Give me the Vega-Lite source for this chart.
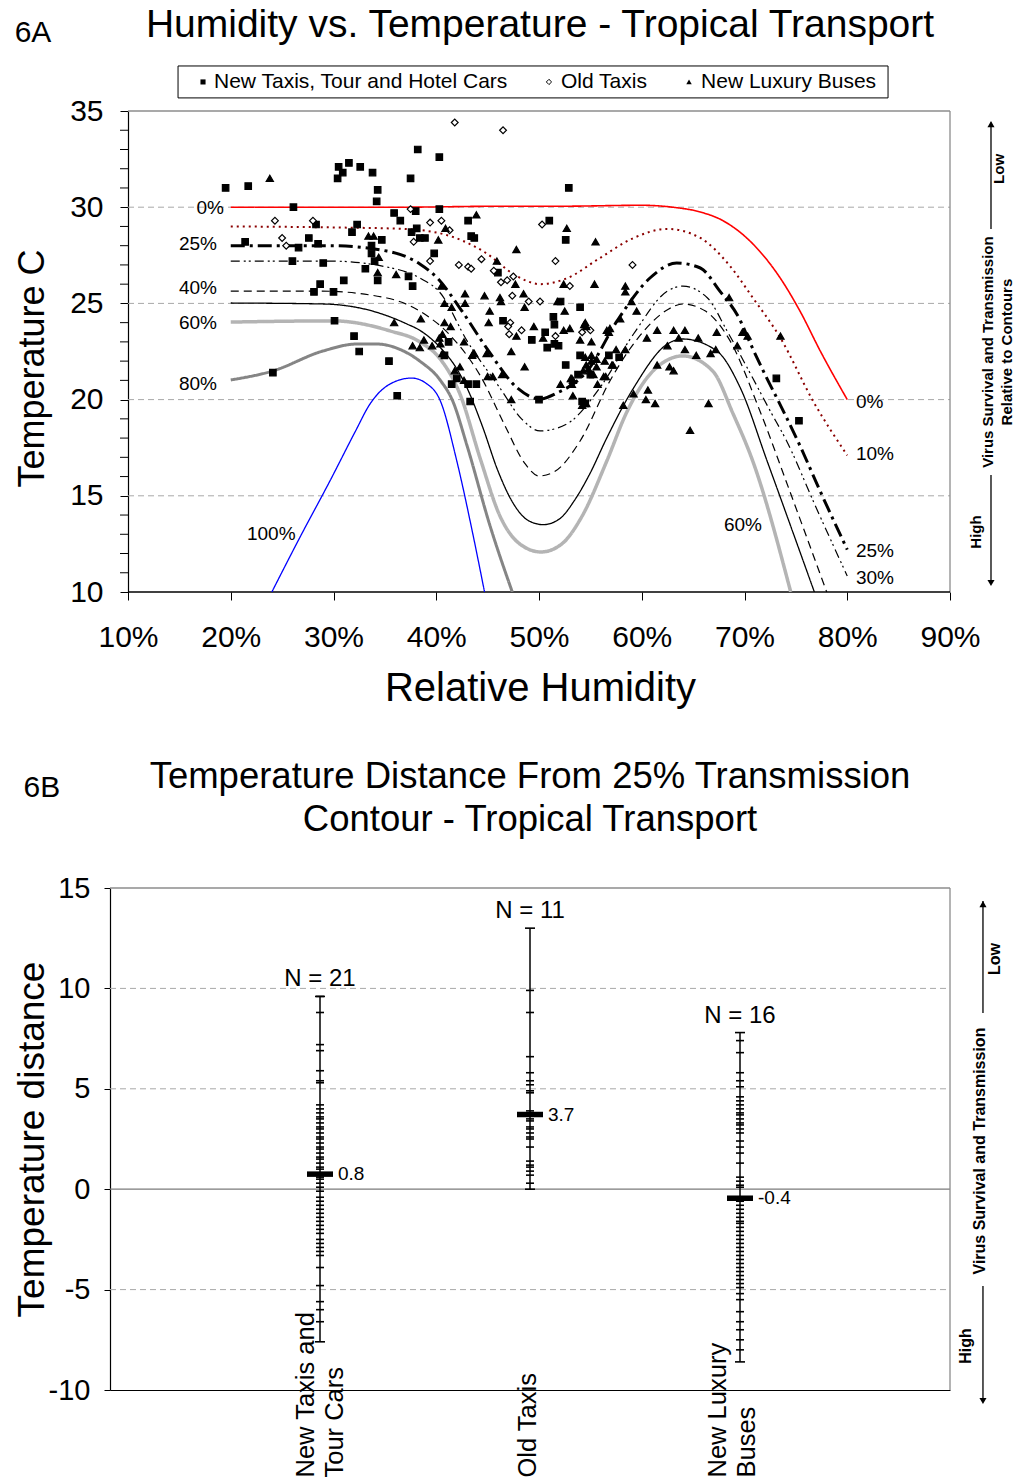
{
"$schema": "https://vega.github.io/schema/vega-lite/v6.json",
"padding": {"left": 12, "top": 6, "right": 0, "bottom": 0},
"spacing": 50,
"resolve": {"scale": {"shape": "independent", "fill": "independent", "size": "independent", "color": "independent", "strokeDash": "independent", "strokeWidth": "independent"}},
"config": {
 "font": "Liberation Sans",
 "view": {"stroke": null},
 "axis": {"labelFont": "Liberation Sans", "titleFont": "Liberation Sans", "labelColor": "#000", "titleColor": "#000", "domainColor": "#000", "tickColor": "#000", "titleFontWeight": "normal", "grid": false, "domainWidth": 1.2, "tickWidth": 1},
 "title": {"font": "Liberation Sans", "fontWeight": "normal", "color": "#000"},
 "text": {"font": "Liberation Sans", "color": "#000"}
},
"datasets": {
 "gridA": [{"temp": 15}, {"temp": 20}, {"temp": 25}, {"temp": 30}],
 "minorA": [{"temp":11},{"temp":12},{"temp":13},{"temp":14},{"temp":16},{"temp":17},{"temp":18},{"temp":19},{"temp":21},{"temp":22},{"temp":23},{"temp":24},{"temp":26},{"temp":27},{"temp":28},{"temp":29},{"temp":31},{"temp":32},{"temp":33},{"temp":34}],
 "gridB": [{"d": 10}, {"d": 5}, {"d": -5}],
 "contours": [
  {"c":"0%","hum":20,"temp":30.0},{"c":"0%","hum":27,"temp":30.0},{"c":"0%","hum":36.5,"temp":30.0},{"c":"0%","hum":46,"temp":30.05},{"c":"0%","hum":52,"temp":30.05},{"c":"0%","hum":60,"temp":30.1},{"c":"0%","hum":63,"temp":30.0},{"c":"0%","hum":65.7,"temp":29.75},{"c":"0%","hum":67.9,"temp":29.3},{"c":"0%","hum":70.8,"temp":28.1},{"c":"0%","hum":73.5,"temp":26.3},{"c":"0%","hum":75.4,"temp":24.6},{"c":"0%","hum":77.4,"temp":22.5},{"c":"0%","hum":80,"temp":20.0},
  {"c":"10%","hum":20,"temp":29.0},{"c":"10%","hum":29.7,"temp":28.95},{"c":"10%","hum":36.8,"temp":28.87},{"c":"10%","hum":40.7,"temp":28.6},{"c":"10%","hum":44.6,"temp":27.7},{"c":"10%","hum":47.9,"temp":26.4},{"c":"10%","hum":50.1,"temp":26.0},{"c":"10%","hum":52.7,"temp":26.3},{"c":"10%","hum":55.9,"temp":27.35},{"c":"10%","hum":59.2,"temp":28.4},{"c":"10%","hum":62.5,"temp":28.87},{"c":"10%","hum":65.7,"temp":28.4},{"c":"10%","hum":68.5,"temp":27.0},{"c":"10%","hum":70.8,"temp":25.3},{"c":"10%","hum":73.5,"temp":23.2},{"c":"10%","hum":76.7,"temp":19.9},{"c":"10%","hum":80,"temp":17.1},
  {"c":"25%","hum":20,"temp":28.0},{"c":"25%","hum":29.7,"temp":28.0},{"c":"25%","hum":35.2,"temp":27.72},{"c":"25%","hum":38.4,"temp":27.05},{"c":"25%","hum":40.1,"temp":26.32},{"c":"25%","hum":42.3,"temp":24.76},{"c":"25%","hum":44.9,"temp":22.68},{"c":"25%","hum":47.9,"temp":20.6},{"c":"25%","hum":50.1,"temp":20.03},{"c":"25%","hum":51.75,"temp":20.34},{"c":"25%","hum":54.7,"temp":21.49},{"c":"25%","hum":57.6,"temp":24.09},{"c":"25%","hum":60.8,"temp":26.32},{"c":"25%","hum":63.4,"temp":27.1},{"c":"25%","hum":65.7,"temp":26.84},{"c":"25%","hum":67.6,"temp":25.64},{"c":"25%","hum":69.6,"temp":24.1},{"c":"25%","hum":70.5,"temp":23.0},{"c":"25%","hum":72.0,"temp":21.3},{"c":"25%","hum":73.6,"temp":19.6},{"c":"25%","hum":75.4,"temp":17.6},{"c":"25%","hum":77.4,"temp":15.2},{"c":"25%","hum":80,"temp":12.2},
  {"c":"30%","hum":20,"temp":27.2},{"c":"30%","hum":29.7,"temp":27.2},{"c":"30%","hum":35.2,"temp":26.89},{"c":"30%","hum":38.4,"temp":26.32},{"c":"30%","hum":40.4,"temp":25.54},{"c":"30%","hum":43.0,"temp":23.05},{"c":"30%","hum":46.2,"temp":20.6},{"c":"30%","hum":48.3,"temp":19.0},{"c":"30%","hum":50.1,"temp":18.37},{"c":"30%","hum":52.7,"temp":18.73},{"c":"30%","hum":55.9,"temp":20.6},{"c":"30%","hum":59.2,"temp":23.41},{"c":"30%","hum":62.5,"temp":25.64},{"c":"30%","hum":64.0,"temp":25.9},{"c":"30%","hum":66.4,"temp":25.28},{"c":"30%","hum":68.3,"temp":23.57},{"c":"30%","hum":70.8,"temp":21.12},{"c":"30%","hum":72.5,"temp":19.41},{"c":"30%","hum":74.1,"temp":17.85},{"c":"30%","hum":76.9,"temp":14.47},{"c":"30%","hum":80,"temp":10.83},
  {"c":"40%","hum":20,"temp":25.64},{"c":"40%","hum":28.7,"temp":25.64},{"c":"40%","hum":35.2,"temp":25.28},{"c":"40%","hum":38.4,"temp":24.6},{"c":"40%","hum":41.6,"temp":23.2},{"c":"40%","hum":44.3,"temp":21.23},{"c":"40%","hum":46.7,"temp":18.63},{"c":"40%","hum":48.6,"temp":16.7},{"c":"40%","hum":50.0,"temp":16.03},{"c":"40%","hum":51.6,"temp":16.29},{"c":"40%","hum":54.0,"temp":17.85},{"c":"40%","hum":56.9,"temp":20.97},{"c":"40%","hum":59.8,"temp":23.31},{"c":"40%","hum":62.3,"temp":24.6},{"c":"40%","hum":64.0,"temp":24.97},{"c":"40%","hum":66.2,"temp":24.6},{"c":"40%","hum":68.6,"temp":23.05},{"c":"40%","hum":71.5,"temp":19.41},{"c":"40%","hum":74.4,"temp":15.25},{"c":"40%","hum":78.0,"temp":10.0},
  {"c":"50%","hum":20,"temp":25.02},{"c":"50%","hum":29.0,"temp":24.97},{"c":"50%","hum":33.8,"temp":24.6},{"c":"50%","hum":37.15,"temp":23.93},{"c":"50%","hum":38.4,"temp":23.6},{"c":"50%","hum":40.4,"temp":22.7},{"c":"50%","hum":42.0,"temp":21.6},{"c":"50%","hum":43.0,"temp":20.6},{"c":"50%","hum":44.5,"temp":18.6},{"c":"50%","hum":46.0,"temp":16.3},{"c":"50%","hum":47.5,"temp":14.6},{"c":"50%","hum":49.0,"temp":13.7},{"c":"50%","hum":50.4,"temp":13.5},{"c":"50%","hum":52.0,"temp":13.8},{"c":"50%","hum":53.5,"temp":14.8},{"c":"50%","hum":55.0,"temp":16.2},{"c":"50%","hum":56.5,"temp":17.9},{"c":"50%","hum":59.2,"temp":20.6},{"c":"50%","hum":62.5,"temp":22.89},{"c":"50%","hum":64.0,"temp":23.15},{"c":"50%","hum":67.3,"temp":22.53},{"c":"50%","hum":69.6,"temp":20.6},{"c":"50%","hum":72.2,"temp":16.81},{"c":"50%","hum":76.8,"temp":10.0},
  {"c":"60%","hum":20,"temp":24.03},{"c":"60%","hum":30.0,"temp":24.09},{"c":"60%","hum":35.5,"temp":23.57},{"c":"60%","hum":38.4,"temp":23.0},{"c":"60%","hum":40.4,"temp":22.1},{"c":"60%","hum":42.3,"temp":20.3},{"c":"60%","hum":44.3,"temp":16.9},{"c":"60%","hum":46.2,"temp":13.95},{"c":"60%","hum":48.15,"temp":12.49},{"c":"60%","hum":50.2,"temp":12.08},{"c":"60%","hum":52.2,"temp":12.49},{"c":"60%","hum":54.2,"temp":13.95},{"c":"60%","hum":56.6,"temp":16.81},{"c":"60%","hum":58.5,"temp":19.3},{"c":"60%","hum":60.5,"temp":21.12},{"c":"60%","hum":62.3,"temp":22.0},{"c":"60%","hum":64.0,"temp":22.27},{"c":"60%","hum":66.9,"temp":21.49},{"c":"60%","hum":68.9,"temp":19.25},{"c":"60%","hum":70.8,"temp":16.81},{"c":"60%","hum":74.5,"temp":10.0},
  {"c":"80%","hum":20,"temp":21.02},{"c":"80%","hum":24.1,"temp":21.49},{"c":"80%","hum":29.0,"temp":22.53},{"c":"80%","hum":32.3,"temp":22.89},{"c":"80%","hum":34.2,"temp":22.89},{"c":"80%","hum":36.5,"temp":22.6},{"c":"80%","hum":38.4,"temp":22.0},{"c":"80%","hum":40.4,"temp":21.0},{"c":"80%","hum":41.6,"temp":19.93},{"c":"80%","hum":43.0,"temp":17.6},{"c":"80%","hum":45.2,"temp":13.5},{"c":"80%","hum":47.4,"temp":10.0},
  {"c":"100%","hum":24.0,"temp":10.0},{"c":"100%","hum":26.7,"temp":12.81},{"c":"100%","hum":29.7,"temp":15.82},{"c":"100%","hum":32.1,"temp":18.32},{"c":"100%","hum":33.55,"temp":19.77},{"c":"100%","hum":35.5,"temp":20.81},{"c":"100%","hum":37.6,"temp":21.12},{"c":"100%","hum":39.0,"temp":20.85},{"c":"100%","hum":40.4,"temp":19.93},{"c":"100%","hum":42.0,"temp":16.81},{"c":"100%","hum":43.5,"temp":13.17},{"c":"100%","hum":44.7,"temp":10.0}
 ],
 "pts": [
  {"s":"N","hum":19.5,"temp":31.0},{"s":"N","hum":21.7,"temp":31.1},{"s":"N","hum":26.1,"temp":30.0},{"s":"N","hum":30.5,"temp":32.1},{"s":"N","hum":31.5,"temp":32.3},{"s":"N","hum":30.9,"temp":31.8},{"s":"N","hum":30.4,"temp":31.5},{"s":"N","hum":32.6,"temp":32.1},{"s":"N","hum":33.8,"temp":31.8},{"s":"N","hum":34.3,"temp":30.9},{"s":"N","hum":34.2,"temp":30.3},{"s":"N","hum":37.5,"temp":31.5},{"s":"N","hum":38.2,"temp":33.0},{"s":"N","hum":40.3,"temp":32.6},{"s":"N","hum":35.9,"temp":29.7},{"s":"N","hum":36.5,"temp":29.3},{"s":"N","hum":38.0,"temp":29.8},{"s":"N","hum":40.3,"temp":29.9},{"s":"N","hum":28.3,"temp":29.1},{"s":"N","hum":31.8,"temp":28.7},{"s":"N","hum":32.3,"temp":29.1},{"s":"N","hum":21.4,"temp":28.2},{"s":"N","hum":26.6,"temp":27.9},{"s":"N","hum":27.6,"temp":28.4},{"s":"N","hum":28.5,"temp":28.1},{"s":"N","hum":26.0,"temp":27.2},{"s":"N","hum":29.0,"temp":27.1},{"s":"N","hum":33.7,"temp":28.0},{"s":"N","hum":33.7,"temp":27.6},{"s":"N","hum":34.7,"temp":28.3},{"s":"N","hum":34.0,"temp":27.2},{"s":"N","hum":33.1,"temp":26.8},{"s":"N","hum":34.3,"temp":26.2},{"s":"N","hum":31.0,"temp":26.2},{"s":"N","hum":28.7,"temp":26.0},{"s":"N","hum":28.1,"temp":25.6},{"s":"N","hum":30.0,"temp":25.6},{"s":"N","hum":37.3,"temp":26.4},{"s":"N","hum":37.7,"temp":25.9},{"s":"N","hum":38.1,"temp":28.9},{"s":"N","hum":37.6,"temp":28.7},{"s":"N","hum":38.4,"temp":28.4},{"s":"N","hum":38.9,"temp":28.4},{"s":"N","hum":39.8,"temp":27.6},{"s":"N","hum":30.1,"temp":24.1},{"s":"N","hum":32.0,"temp":23.3},{"s":"N","hum":32.5,"temp":22.5},{"s":"N","hum":35.4,"temp":22.0},{"s":"N","hum":36.2,"temp":20.2},{"s":"N","hum":24.1,"temp":21.4},{"s":"N","hum":43.1,"temp":29.3},{"s":"N","hum":43.4,"temp":28.5},{"s":"N","hum":43.7,"temp":28.4},{"s":"N","hum":46.0,"temp":26.6},{"s":"N","hum":46.5,"temp":24.1},{"s":"N","hum":49.3,"temp":23.1},{"s":"N","hum":41.2,"temp":23.0},{"s":"N","hum":41.5,"temp":20.8},{"s":"N","hum":42.0,"temp":21.1},{"s":"N","hum":43.1,"temp":20.8},{"s":"N","hum":43.9,"temp":20.8},{"s":"N","hum":43.3,"temp":19.9},{"s":"N","hum":50.0,"temp":20.0},{"s":"N","hum":51.0,"temp":29.3},{"s":"N","hum":52.6,"temp":28.3},{"s":"N","hum":52.9,"temp":31.0},{"s":"N","hum":40.8,"temp":22.3},{"s":"N","hum":51.4,"temp":24.3},{"s":"N","hum":51.5,"temp":23.9},{"s":"N","hum":50.6,"temp":23.5},{"s":"N","hum":51.5,"temp":22.9},{"s":"N","hum":50.8,"temp":22.7},{"s":"N","hum":51.9,"temp":22.8},{"s":"N","hum":52.1,"temp":25.1},{"s":"N","hum":54.0,"temp":24.8},{"s":"N","hum":54.0,"temp":22.3},{"s":"N","hum":56.8,"temp":22.3},{"s":"N","hum":52.6,"temp":21.8},{"s":"N","hum":53.8,"temp":21.3},{"s":"N","hum":55.0,"temp":21.3},{"s":"N","hum":54.2,"temp":19.9},{"s":"N","hum":54.5,"temp":19.8},{"s":"N","hum":57.8,"temp":22.2},{"s":"N","hum":73.1,"temp":21.1},{"s":"N","hum":75.3,"temp":18.9},
  {"s":"O","hum":41.8,"temp":34.4},{"s":"O","hum":46.5,"temp":34.0},{"s":"O","hum":24.3,"temp":29.3},{"s":"O","hum":28.0,"temp":29.3},{"s":"O","hum":25.0,"temp":28.4},{"s":"O","hum":25.4,"temp":28.0},{"s":"O","hum":37.5,"temp":29.9},{"s":"O","hum":37.8,"temp":28.2},{"s":"O","hum":39.4,"temp":29.2},{"s":"O","hum":40.5,"temp":29.3},{"s":"O","hum":41.3,"temp":28.8},{"s":"O","hum":39.4,"temp":27.2},{"s":"O","hum":42.2,"temp":27.0},{"s":"O","hum":43.1,"temp":26.9},{"s":"O","hum":43.4,"temp":26.8},{"s":"O","hum":44.4,"temp":27.3},{"s":"O","hum":45.6,"temp":26.7},{"s":"O","hum":46.3,"temp":26.1},{"s":"O","hum":46.9,"temp":26.2},{"s":"O","hum":47.5,"temp":26.4},{"s":"O","hum":49.0,"temp":25.1},{"s":"O","hum":50.1,"temp":25.1},{"s":"O","hum":47.4,"temp":25.4},{"s":"O","hum":47.2,"temp":24.0},{"s":"O","hum":47.0,"temp":23.8},{"s":"O","hum":47.1,"temp":23.4},{"s":"O","hum":48.3,"temp":23.6},{"s":"O","hum":50.3,"temp":29.1},{"s":"O","hum":51.6,"temp":27.2},{"s":"O","hum":53.0,"temp":25.9},{"s":"O","hum":54.2,"temp":23.5},{"s":"O","hum":55.0,"temp":23.6},{"s":"O","hum":51.6,"temp":23.3},{"s":"O","hum":59.1,"temp":27.0},
  {"s":"L","hum":23.8,"temp":31.5},{"s":"L","hum":33.4,"temp":28.5},{"s":"L","hum":33.9,"temp":28.5},{"s":"L","hum":34.4,"temp":27.4},{"s":"L","hum":34.3,"temp":26.6},{"s":"L","hum":36.1,"temp":26.5},{"s":"L","hum":35.9,"temp":24.0},{"s":"L","hum":38.5,"temp":24.2},{"s":"L","hum":37.7,"temp":22.8},{"s":"L","hum":38.4,"temp":22.7},{"s":"L","hum":38.8,"temp":23.1},{"s":"L","hum":39.6,"temp":22.8},{"s":"L","hum":40.3,"temp":23.2},{"s":"L","hum":43.9,"temp":29.6},{"s":"L","hum":40.9,"temp":28.9},{"s":"L","hum":40.2,"temp":28.3},{"s":"L","hum":47.8,"temp":27.8},{"s":"L","hum":45.9,"temp":27.2},{"s":"L","hum":47.7,"temp":26.0},{"s":"L","hum":46.2,"temp":25.3},{"s":"L","hum":46.3,"temp":25.1},{"s":"L","hum":48.5,"temp":25.5},{"s":"L","hum":48.6,"temp":24.8},{"s":"L","hum":42.8,"temp":25.5},{"s":"L","hum":44.7,"temp":25.4},{"s":"L","hum":40.5,"temp":25.9},{"s":"L","hum":40.8,"temp":25.0},{"s":"L","hum":41.5,"temp":24.8},{"s":"L","hum":45.2,"temp":24.6},{"s":"L","hum":45.1,"temp":24.0},{"s":"L","hum":47.8,"temp":23.3},{"s":"L","hum":49.5,"temp":23.8},{"s":"L","hum":42.8,"temp":25.0},{"s":"L","hum":40.8,"temp":24.0},{"s":"L","hum":41.4,"temp":23.8},{"s":"L","hum":42.7,"temp":23.0},{"s":"L","hum":40.6,"temp":23.4},{"s":"L","hum":40.4,"temp":22.9},{"s":"L","hum":43.6,"temp":22.4},{"s":"L","hum":44.9,"temp":22.4},{"s":"L","hum":47.3,"temp":22.5},{"s":"L","hum":48.6,"temp":21.7},{"s":"L","hum":45.0,"temp":21.2},{"s":"L","hum":45.5,"temp":21.2},{"s":"L","hum":42.3,"temp":21.7},{"s":"L","hum":41.8,"temp":21.5},{"s":"L","hum":42.7,"temp":21.0},{"s":"L","hum":47.3,"temp":20.0},{"s":"L","hum":40.6,"temp":22.4},{"s":"L","hum":43.7,"temp":22.4},{"s":"L","hum":43.5,"temp":22.3},{"s":"L","hum":46.4,"temp":21.3},{"s":"L","hum":52.7,"temp":28.9},{"s":"L","hum":55.5,"temp":28.2},{"s":"L","hum":52.4,"temp":26.0},{"s":"L","hum":55.4,"temp":26.0},{"s":"L","hum":51.8,"temp":25.1},{"s":"L","hum":52.5,"temp":24.6},{"s":"L","hum":52.4,"temp":23.6},{"s":"L","hum":53.0,"temp":23.7},{"s":"L","hum":54.5,"temp":24.0},{"s":"L","hum":54.6,"temp":23.8},{"s":"L","hum":54.4,"temp":23.9},{"s":"L","hum":50.4,"temp":23.2},{"s":"L","hum":54.0,"temp":23.1},{"s":"L","hum":55.1,"temp":23.0},{"s":"L","hum":56.6,"temp":23.6},{"s":"L","hum":56.9,"temp":23.7},{"s":"L","hum":56.8,"temp":23.5},{"s":"L","hum":54.5,"temp":22.2},{"s":"L","hum":55.1,"temp":22.3},{"s":"L","hum":55.6,"temp":22.1},{"s":"L","hum":54.6,"temp":21.8},{"s":"L","hum":55.1,"temp":22.0},{"s":"L","hum":55.6,"temp":21.7},{"s":"L","hum":57.2,"temp":21.8},{"s":"L","hum":53.2,"temp":21.1},{"s":"L","hum":53.3,"temp":21.0},{"s":"L","hum":54.3,"temp":21.5},{"s":"L","hum":54.8,"temp":21.6},{"s":"L","hum":55.3,"temp":21.3},{"s":"L","hum":56.3,"temp":21.2},{"s":"L","hum":52.1,"temp":20.8},{"s":"L","hum":53.2,"temp":20.8},{"s":"L","hum":53.1,"temp":21.1},{"s":"L","hum":53.3,"temp":20.2},{"s":"L","hum":54.2,"temp":19.7},{"s":"L","hum":54.6,"temp":19.8},{"s":"L","hum":58.4,"temp":25.9},{"s":"L","hum":58.4,"temp":25.6},{"s":"L","hum":59.0,"temp":25.1},{"s":"L","hum":59.5,"temp":24.6},{"s":"L","hum":57.9,"temp":24.2},{"s":"L","hum":61.5,"temp":23.6},{"s":"L","hum":63.1,"temp":23.6},{"s":"L","hum":64.2,"temp":23.6},{"s":"L","hum":67.3,"temp":23.5},{"s":"L","hum":69.8,"temp":23.5},{"s":"L","hum":70.3,"temp":23.3},{"s":"L","hum":68.5,"temp":25.3},{"s":"L","hum":73.5,"temp":23.3},{"s":"L","hum":60.5,"temp":23.2},{"s":"L","hum":63.6,"temp":23.2},{"s":"L","hum":65.5,"temp":23.2},{"s":"L","hum":62.5,"temp":22.8},{"s":"L","hum":64.2,"temp":22.6},{"s":"L","hum":67.2,"temp":22.6},{"s":"L","hum":69.3,"temp":22.8},{"s":"L","hum":65.3,"temp":22.3},{"s":"L","hum":66.7,"temp":22.4},{"s":"L","hum":57.5,"temp":22.6},{"s":"L","hum":58.4,"temp":22.6},{"s":"L","hum":56.4,"temp":22.0},{"s":"L","hum":57.1,"temp":21.8},{"s":"L","hum":61.5,"temp":21.8},{"s":"L","hum":62.7,"temp":21.7},{"s":"L","hum":63.1,"temp":21.5},{"s":"L","hum":56.5,"temp":21.2},{"s":"L","hum":55.7,"temp":20.8},{"s":"L","hum":60.6,"temp":20.5},{"s":"L","hum":60.4,"temp":20.0},{"s":"L","hum":59.2,"temp":20.3},{"s":"L","hum":61.3,"temp":19.8},{"s":"L","hum":58.2,"temp":19.7},{"s":"L","hum":66.5,"temp":19.8},{"s":"L","hum":64.7,"temp":18.4}
 ],
 "clabL": [{"hum":19.34,"temp":29.94,"t":"0%"},{"hum":18.66,"temp":28.07,"t":"25%"},{"hum":18.66,"temp":25.82,"t":"40%"},{"hum":18.66,"temp":24.0,"t":"60%"},{"hum":18.66,"temp":20.79,"t":"80%"}],
 "clabR": [{"hum":80.85,"temp":19.88,"t":"0%"},{"hum":80.85,"temp":17.17,"t":"10%"},{"hum":80.85,"temp":12.13,"t":"25%"},{"hum":80.85,"temp":10.73,"t":"30%"},{"hum":68.0,"temp":13.48,"t":"60%"},{"hum":21.58,"temp":13.01,"t":"100%"}],
 "stats": [
  {"cat":1,"lo":-7.6,"hi":9.6,"mean":0.75,"ml":"0.8","n":"N = 21"},
  {"cat":2,"lo":0.0,"hi":13.0,"mean":3.72,"ml":"3.7","n":"N = 11"},
  {"cat":3,"lo":-8.6,"hi":7.8,"mean":-0.45,"ml":"-0.4","n":"N = 16"}
 ],
 "obs": [
  {"cat":1,"d":9.6},{"cat":1,"d":8.8},{"cat":1,"d":7.2},{"cat":1,"d":6.9},{"cat":1,"d":5.9},{"cat":1,"d":5.4},{"cat":1,"d":5.3},{"cat":1,"d":4.2},{"cat":1,"d":4.0},{"cat":1,"d":3.8},{"cat":1,"d":3.6},{"cat":1,"d":3.5},{"cat":1,"d":3.3},{"cat":1,"d":3.1},{"cat":1,"d":3.0},{"cat":1,"d":2.8},{"cat":1,"d":2.6},{"cat":1,"d":2.5},{"cat":1,"d":2.3},{"cat":1,"d":2.1},{"cat":1,"d":2.0},{"cat":1,"d":1.8},{"cat":1,"d":1.6},{"cat":1,"d":1.5},{"cat":1,"d":1.3},{"cat":1,"d":1.1},{"cat":1,"d":1.0},{"cat":1,"d":0.6},{"cat":1,"d":0.5},{"cat":1,"d":0.3},{"cat":1,"d":0.1},{"cat":1,"d":-0.1},{"cat":1,"d":-0.4},{"cat":1,"d":-0.6},{"cat":1,"d":-0.8},{"cat":1,"d":-1.0},{"cat":1,"d":-1.2},{"cat":1,"d":-1.4},{"cat":1,"d":-1.6},{"cat":1,"d":-1.8},{"cat":1,"d":-2.0},{"cat":1,"d":-2.2},{"cat":1,"d":-2.5},{"cat":1,"d":-2.7},{"cat":1,"d":-2.9},{"cat":1,"d":-3.1},{"cat":1,"d":-3.3},{"cat":1,"d":-3.9},{"cat":1,"d":-4.8},{"cat":1,"d":-5.6},{"cat":1,"d":-6.0},{"cat":1,"d":-6.6},
  {"cat":2,"d":9.9},{"cat":2,"d":8.8},{"cat":2,"d":6.6},{"cat":2,"d":5.8},{"cat":2,"d":5.4},{"cat":2,"d":5.2},{"cat":2,"d":4.9},{"cat":2,"d":4.8},{"cat":2,"d":3.9},{"cat":2,"d":3.5},{"cat":2,"d":3.4},{"cat":2,"d":3.1},{"cat":2,"d":3.0},{"cat":2,"d":2.8},{"cat":2,"d":2.6},{"cat":2,"d":2.5},{"cat":2,"d":2.1},{"cat":2,"d":1.4},{"cat":2,"d":1.2},{"cat":2,"d":1.1},{"cat":2,"d":0.9},{"cat":2,"d":0.7},{"cat":2,"d":0.3},
  {"cat":3,"d":7.4},{"cat":3,"d":6.8},{"cat":3,"d":5.8},{"cat":3,"d":5.4},{"cat":3,"d":5.1},{"cat":3,"d":4.6},{"cat":3,"d":4.4},{"cat":3,"d":4.2},{"cat":3,"d":4.0},{"cat":3,"d":3.8},{"cat":3,"d":3.7},{"cat":3,"d":3.5},{"cat":3,"d":3.3},{"cat":3,"d":3.2},{"cat":3,"d":3.0},{"cat":3,"d":2.8},{"cat":3,"d":2.4},{"cat":3,"d":2.1},{"cat":3,"d":1.8},{"cat":3,"d":1.3},{"cat":3,"d":0.6},{"cat":3,"d":0.4},{"cat":3,"d":0.2},{"cat":3,"d":0.1},{"cat":3,"d":-0.6},{"cat":3,"d":-0.8},{"cat":3,"d":-1.0},{"cat":3,"d":-1.2},{"cat":3,"d":-1.4},{"cat":3,"d":-1.6},{"cat":3,"d":-1.7},{"cat":3,"d":-1.9},{"cat":3,"d":-2.1},{"cat":3,"d":-2.3},{"cat":3,"d":-2.5},{"cat":3,"d":-2.7},{"cat":3,"d":-2.9},{"cat":3,"d":-3.1},{"cat":3,"d":-3.3},{"cat":3,"d":-3.5},{"cat":3,"d":-3.7},{"cat":3,"d":-3.9},{"cat":3,"d":-4.1},{"cat":3,"d":-4.3},{"cat":3,"d":-4.5},{"cat":3,"d":-4.7},{"cat":3,"d":-4.9},{"cat":3,"d":-5.2},{"cat":3,"d":-5.5},{"cat":3,"d":-6.1},{"cat":3,"d":-6.6},{"cat":3,"d":-7.0},{"cat":3,"d":-7.5},{"cat":3,"d":-8.0}
 ]
},
"vconcat": [
 {
  "width": 840, "height": 481,
  "title": {"text": "Humidity vs. Temperature - Tropical Transport", "fontSize": 39, "anchor": "middle", "dx": 10, "offset": -27},
  "layer": [
   {"data": {"name": "gridA"}, "mark": {"type": "rule", "color": "#a8a8a8", "strokeDash": [6, 4], "strokeWidth": 1}, "encoding": {"y": {"field": "temp", "type": "quantitative"}, "x": {"datum": 10}, "x2": {"datum": 90}}},
   {"data": {"values": [{}]}, "mark": {"type": "rule", "color": "#8c8c8c", "strokeWidth": 1.3}, "encoding": {"x": {"datum": 10}, "x2": {"datum": 90}, "y": {"datum": 35}}},
   {"data": {"values": [{}]}, "mark": {"type": "rule", "color": "#8c8c8c", "strokeWidth": 1.3}, "encoding": {"x": {"datum": 90}, "y": {"datum": 10}, "y2": {"datum": 35}}},
   {"data": {"values": [{}]}, "mark": {"type": "rule", "color": "#000", "strokeWidth": 1.3}, "encoding": {"x": {"datum": 10}, "x2": {"datum": 90}, "y": {"datum": 10}}},
   {"data": {"name": "minorA"}, "mark": {"type": "tick", "orient": "horizontal", "color": "#000", "size": 8, "thickness": 1, "opacity": 1, "clip": false}, "encoding": {"x": {"datum": 9.611}, "y": {"field": "temp", "type": "quantitative"}}},
   {"data": {"name": "contours"}, "mark": {"type": "line", "interpolate": "monotone", "clip": true},
    "encoding": {
     "x": {"field": "hum", "type": "quantitative"},
     "y": {"field": "temp", "type": "quantitative"},
     "color": {"field": "c", "type": "nominal", "legend": null, "scale": {"domain": ["0%","10%","25%","30%","40%","50%","60%","80%","100%"], "range": ["#ff0000","#8b0000","#000000","#000000","#000000","#000000","#b4b4b4","#858585","#0000ff"]}},
     "strokeDash": {"field": "c", "type": "nominal", "legend": null, "scale": {"domain": ["0%","10%","25%","30%","40%","50%","60%","80%","100%"], "range": [[1,0],[2,4],[14,5,3,5],[9,4,2,3,2,4],[8,5],[1,0],[1,0],[1,0],[1,0]]}},
     "strokeWidth": {"field": "c", "type": "nominal", "legend": null, "scale": {"type": "ordinal", "domain": ["0%","10%","25%","30%","40%","50%","60%","80%","100%"], "range": [1.6,2,3,1.2,1.2,1.3,3.5,3,1.3]}}
    }},
   {"data": {"name": "pts"}, "mark": {"type": "point", "filled": true, "stroke": "#000", "strokeWidth": 1.2, "opacity": 1},
    "encoding": {
     "x": {"field": "hum", "type": "quantitative", "scale": {"domain": [8.248, 90], "nice": false, "zero": false},
      "axis": {"title": "Relative Humidity", "values": [10,20,30,40,50,60,70,80,90], "labelExpr": "datum.value + '%'", "domain": false, "tickSize": 8, "labelFontSize": 30, "labelPadding": 22, "titleFontSize": 40, "titlePadding": 16, "titleX": 430, "labelFlush": false, "labelOverlap": false}},
     "y": {"field": "temp", "type": "quantitative", "scale": {"domain": [10, 35], "nice": false, "zero": false},
      "axis": {"title": "Temperature C", "values": [10,15,20,25,30,35], "offset": -18, "tickSize": 8, "labelFontSize": 30, "labelPadding": 17, "titleFontSize": 36, "titleX": -96, "titleY": 257, "titleBaseline": "middle", "titleAnchor": "middle", "labelFlush": false, "labelOverlap": false}},
     "shape": {"field": "s", "type": "nominal", "legend": null, "scale": {"domain": ["N","O","L"], "range": ["square","diamond","triangle-up"]}},
     "fill": {"field": "s", "type": "nominal", "legend": null, "scale": {"domain": ["N","O","L"], "range": ["#000","#fff","#000"]}},
     "size": {"field": "s", "type": "nominal", "legend": null, "scale": {"type": "ordinal", "domain": ["N","O","L"], "range": [42, 46, 52]}}
    }},
   {"data": {"name": "clabL"}, "mark": {"type": "text", "align": "right", "baseline": "middle", "fontSize": 19}, "encoding": {"x": {"field": "hum", "type": "quantitative"}, "y": {"field": "temp", "type": "quantitative"}, "text": {"field": "t"}}},
   {"data": {"name": "clabR"}, "mark": {"type": "text", "align": "left", "baseline": "middle", "fontSize": 19, "clip": false}, "encoding": {"x": {"field": "hum", "type": "quantitative"}, "y": {"field": "temp", "type": "quantitative"}, "text": {"field": "t"}}},
   {"data": {"values": [{}]}, "mark": {"type": "rect", "fill": "#fff", "stroke": "#000", "strokeWidth": 1, "clip": false}, "encoding": {"x": {"datum": 14.87}, "x2": {"datum": 83.97}, "y": {"datum": 37.34}, "y2": {"datum": 35.68}}},
   {"data": {"values": [{}]}, "mark": {"type": "point", "shape": "square", "filled": true, "color": "#000", "size": 26, "opacity": 1, "clip": false}, "encoding": {"x": {"datum": 17.3}, "y": {"datum": 36.51}}},
   {"data": {"values": [{}]}, "mark": {"type": "point", "shape": "diamond", "filled": false, "color": "#000", "strokeWidth": 1, "size": 28, "opacity": 1, "clip": false}, "encoding": {"x": {"datum": 50.97}, "y": {"datum": 36.51}}},
   {"data": {"values": [{}]}, "mark": {"type": "point", "shape": "triangle-up", "filled": true, "color": "#000", "size": 30, "opacity": 1, "clip": false}, "encoding": {"x": {"datum": 64.6}, "y": {"datum": 36.51}}},
   {"data": {"values": [{}]}, "mark": {"type": "text", "align": "left", "baseline": "middle", "fontSize": 21, "clip": false, "text": "New Taxis, Tour and Hotel Cars"}, "encoding": {"x": {"datum": 18.37}, "y": {"datum": 36.51}}},
   {"data": {"values": [{}]}, "mark": {"type": "text", "align": "left", "baseline": "middle", "fontSize": 21, "clip": false, "text": "Old Taxis"}, "encoding": {"x": {"datum": 52.14}, "y": {"datum": 36.51}}},
   {"data": {"values": [{}]}, "mark": {"type": "text", "align": "left", "baseline": "middle", "fontSize": 21, "clip": false, "text": "New Luxury Buses"}, "encoding": {"x": {"datum": 65.77}, "y": {"datum": 36.51}}},
   {"data": {"values": [{}]}, "mark": {"type": "rule", "color": "#000", "strokeWidth": 1.3, "clip": false}, "encoding": {"x": {"datum": 93.99}, "y": {"datum": 34.4}, "y2": {"datum": 28.87}}},
   {"data": {"values": [{}]}, "mark": {"type": "rule", "color": "#000", "strokeWidth": 1.3, "clip": false}, "encoding": {"x": {"datum": 93.99}, "y": {"datum": 16.08}, "y2": {"datum": 10.5}}},
   {"data": {"values": [{}]}, "mark": {"type": "point", "shape": "triangle-up", "filled": true, "color": "#000", "size": 50, "opacity": 1, "clip": false}, "encoding": {"x": {"datum": 93.99}, "y": {"datum": 34.32}}},
   {"data": {"values": [{}]}, "mark": {"type": "point", "shape": "triangle-down", "filled": true, "color": "#000", "size": 50, "opacity": 1, "clip": false}, "encoding": {"x": {"datum": 93.99}, "y": {"datum": 10.47}}},
   {"data": {"values": [{}]}, "mark": {"type": "text", "angle": 270, "align": "center", "baseline": "middle", "fontSize": 15, "fontWeight": "bold", "lineHeight": 19, "clip": false, "text": ["Virus Survival and Transmission", "Relative to Contours"]}, "encoding": {"x": {"datum": 93.7}, "y": {"datum": 22.47}}},
   {"data": {"values": [{}]}, "mark": {"type": "text", "angle": 270, "align": "center", "baseline": "middle", "fontSize": 15, "fontWeight": "bold", "clip": false, "text": "High"}, "encoding": {"x": {"datum": 92.53}, "y": {"datum": 13.12}}},
   {"data": {"values": [{}]}, "mark": {"type": "text", "angle": 270, "align": "center", "baseline": "middle", "fontSize": 15, "fontWeight": "bold", "clip": false, "text": "Low"}, "encoding": {"x": {"datum": 94.8}, "y": {"datum": 31.99}}},
   {"data": {"values": [{}]}, "mark": {"type": "text", "align": "center", "baseline": "middle", "fontSize": 30, "clip": false, "text": "6A"}, "encoding": {"x": {"datum": 0.754}, "y": {"datum": 39.05}}}
  ]
 },
 {
  "width": 840, "height": 502,
  "title": {"text": ["Temperature Distance From 25% Transmission", "Contour - Tropical Transport"], "fontSize": 36.5, "lineHeight": 43, "anchor": "middle", "offset": -65},
  "layer": [
   {"data": {"name": "gridB"}, "mark": {"type": "rule", "color": "#a8a8a8", "strokeDash": [6, 4], "strokeWidth": 1}, "encoding": {"y": {"field": "d", "type": "quantitative"}, "x": {"datum": 0}, "x2": {"datum": 4}}},
   {"data": {"values": [{}]}, "mark": {"type": "rule", "color": "#7a7a7a", "strokeWidth": 1.3}, "encoding": {"x": {"datum": 0}, "x2": {"datum": 4}, "y": {"datum": 0}}},
   {"data": {"values": [{}]}, "mark": {"type": "rule", "color": "#8c8c8c", "strokeWidth": 1.3}, "encoding": {"x": {"datum": 0}, "x2": {"datum": 4}, "y": {"datum": 15}}},
   {"data": {"values": [{}]}, "mark": {"type": "rule", "color": "#8c8c8c", "strokeWidth": 1.3}, "encoding": {"x": {"datum": 4}, "y": {"datum": -10}, "y2": {"datum": 15}}},
   {"data": {"name": "stats"}, "mark": {"type": "rule", "color": "#000", "strokeWidth": 1.5}, "encoding": {"x": {"field": "cat", "type": "quantitative"}, "y": {"field": "lo", "type": "quantitative"}, "y2": {"field": "hi"}}},
   {"data": {"name": "obs"}, "mark": {"type": "tick", "orient": "horizontal", "color": "#000", "size": 8, "thickness": 1.6, "opacity": 1},
    "encoding": {
     "x": {"field": "cat", "type": "quantitative", "scale": {"domain": [0, 4], "nice": false, "zero": false},
      "axis": {"title": null, "values": [1, 2, 3], "labelExpr": "datum.value == 1 ? ['New Taxis and', 'Tour Cars'] : datum.value == 2 ? 'Old Taxis' : ['New Luxury', 'Buses']", "labelAngle": 270, "labelAlign": "left", "labelBaseline": "middle", "ticks": false, "tickSize": 0, "labelPadding": 87, "labelFontSize": 25.5, "labelLineHeight": 29, "labelOffset": {"condition": [{"test": "datum.value == 2", "value": -3}, {"test": "datum.value == 3", "value": -23}], "value": -15}, "labelFlush": false, "labelOverlap": false, "labelBound": false}},
     "y": {"field": "d", "type": "quantitative", "scale": {"domain": [-10, 15], "nice": false, "zero": false},
      "axis": {"title": "Temperature distance", "values": [-10, -5, 0, 5, 10, 15], "labelExpr": "'' + datum.value", "tickSize": 6, "labelPadding": 14, "labelFontSize": 29, "titleFontSize": 37, "titleX": -78, "titleY": 251, "titleBaseline": "middle", "titleAnchor": "middle", "labelFlush": false, "labelOverlap": false}}
    }},
   {"data": {"name": "stats"}, "mark": {"type": "tick", "orient": "horizontal", "color": "#000", "size": 10, "thickness": 1.6, "opacity": 1}, "encoding": {"x": {"field": "cat", "type": "quantitative"}, "y": {"field": "lo", "type": "quantitative"}}},
   {"data": {"name": "stats"}, "mark": {"type": "tick", "orient": "horizontal", "color": "#000", "size": 10, "thickness": 1.6, "opacity": 1}, "encoding": {"x": {"field": "cat", "type": "quantitative"}, "y": {"field": "hi", "type": "quantitative"}}},
   {"data": {"name": "stats"}, "mark": {"type": "tick", "orient": "horizontal", "color": "#000", "size": 26, "thickness": 5.5, "opacity": 1}, "encoding": {"x": {"field": "cat", "type": "quantitative"}, "y": {"field": "mean", "type": "quantitative"}}},
   {"data": {"name": "stats"}, "mark": {"type": "text", "align": "left", "baseline": "middle", "dx": 18, "fontSize": 19}, "encoding": {"x": {"field": "cat", "type": "quantitative"}, "y": {"field": "mean", "type": "quantitative"}, "text": {"field": "ml"}}},
   {"data": {"name": "stats"}, "mark": {"type": "text", "align": "center", "baseline": "alphabetic", "dy": -10, "fontSize": 24}, "encoding": {"x": {"field": "cat", "type": "quantitative"}, "y": {"field": "hi", "type": "quantitative"}, "text": {"field": "n"}}},
   {"data": {"values": [{}]}, "mark": {"type": "rule", "color": "#000", "strokeWidth": 1.3, "clip": false}, "encoding": {"x": {"datum": 4.157}, "y": {"datum": 14.35}, "y2": {"datum": 8.77}}},
   {"data": {"values": [{}]}, "mark": {"type": "rule", "color": "#000", "strokeWidth": 1.3, "clip": false}, "encoding": {"x": {"datum": 4.157}, "y": {"datum": -4.82}, "y2": {"datum": -10.5}}},
   {"data": {"values": [{}]}, "mark": {"type": "point", "shape": "triangle-up", "filled": true, "color": "#000", "size": 50, "opacity": 1, "clip": false}, "encoding": {"x": {"datum": 4.157}, "y": {"datum": 14.2}}},
   {"data": {"values": [{}]}, "mark": {"type": "point", "shape": "triangle-down", "filled": true, "color": "#000", "size": 50, "opacity": 1, "clip": false}, "encoding": {"x": {"datum": 4.157}, "y": {"datum": -10.55}}},
   {"data": {"values": [{}]}, "mark": {"type": "text", "angle": 270, "align": "center", "baseline": "middle", "fontSize": 16, "fontWeight": "bold", "clip": false, "text": "Virus Survival and Transmission"}, "encoding": {"x": {"datum": 4.143}, "y": {"datum": 1.9}}},
   {"data": {"values": [{}]}, "mark": {"type": "text", "angle": 270, "align": "center", "baseline": "middle", "fontSize": 16, "fontWeight": "bold", "clip": false, "text": "High"}, "encoding": {"x": {"datum": 4.076}, "y": {"datum": -7.81}}},
   {"data": {"values": [{}]}, "mark": {"type": "text", "angle": 270, "align": "center", "baseline": "middle", "fontSize": 16, "fontWeight": "bold", "clip": false, "text": "Low"}, "encoding": {"x": {"datum": 4.214}, "y": {"datum": 11.46}}},
   {"data": {"values": [{}]}, "mark": {"type": "text", "align": "center", "baseline": "middle", "fontSize": 30, "clip": false, "text": "6B"}, "encoding": {"x": {"datum": -0.324}, "y": {"datum": 19.98}}}
  ]
 }
]
}
